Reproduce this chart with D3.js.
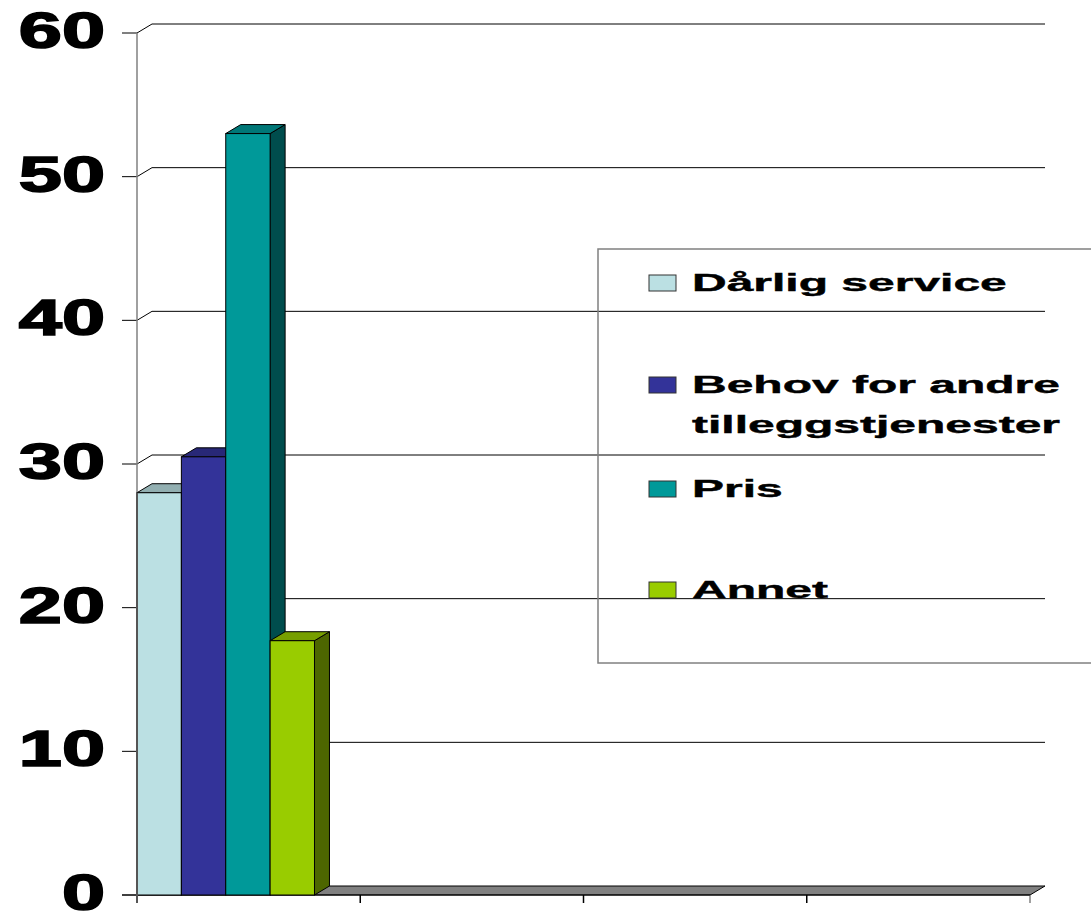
<!DOCTYPE html>
<html>
<head>
<meta charset="utf-8">
<script src="https://cdn.jsdelivr.net/npm/d3@7"></script>
<style>
  body { margin: 0; background: #fff; }
  text { font-family: "Liberation Sans", Arial, sans-serif; font-weight: bold; }
</style>
</head>
<body>
<div id="chart"></div>
<script>
// data
var categories = ["k1", "k2", "k3", "k4"];
var seriesNames = ["Dårlig service", "Behov for andre tilleggstjenester", "Pris", "Annet"];
var seriesValues = [28, 30.5, 53, 17.7];   // only first category has values
var yTicks = [0, 10, 20, 30, 40, 50, 60];

var colors = ["#BBE0E3", "#333399", "#009999", "#99CC00"];

var svgWidth = 1091, svgHeight = 916;
// 3d offsets
var dx = 15, dy = -9;

var svg = d3.select("#chart").append("svg")
  .attr("width", svgWidth)
  .attr("height", svgHeight);

var x = d3.scaleBand().domain(categories).range([137, 1030]);
var xSeries = d3.scaleBand().domain(seriesNames).range([0, x.bandwidth() * 0.795]);
var y = d3.scaleLinear().domain([0, 60]).range([895, 33]);

function shade(c, k) {
  var r = d3.rgb(c);
  return d3.rgb(r.r * k, r.g * k, r.b * k).toString();
}

// floor
var x0 = x.range()[0], x1 = x.range()[1];
svg.append("path")
  .attr("d", `M${x0},${y(0)} L${x1},${y(0)} L${x1 + dx},${y(0) + dy} L${x0 + dx},${y(0) + dy} Z`)
  .attr("fill", "#808080")
  .attr("stroke", "#000")
  .attr("stroke-width", 1);

// gridlines on back wall + diagonal + left tick
var grid = svg.append("g");
yTicks.forEach(function(t) {
  if (t > 0) {
    grid.append("path")
      .attr("d", `M${x0},${y(t)} L${x0 + dx},${y(t) + dy} L${x1 + dx},${y(t) + dy}`)
      .attr("fill", "none")
      .attr("stroke", "#000")
      .attr("stroke-width", 1);
  }
  grid.append("line")
    .attr("x1", x0 - 15).attr("x2", x0)
    .attr("y1", y(t)).attr("y2", y(t))
    .attr("stroke", "#000");
});

// y axis line
svg.append("line")
  .attr("x1", x0).attr("x2", x0)
  .attr("y1", y(60)).attr("y2", y(0) + 8)
  .attr("stroke", "#808080")
  .attr("stroke-width", 1.5);

// x axis ticks
var xTickPos = categories.map(function(c) { return x(c); }).concat([x1]);
svg.selectAll(".xtick").data(xTickPos).enter().append("line")
  .attr("x1", d => d).attr("x2", d => d)
  .attr("y1", y(0)).attr("y2", y(0) + 8)
  .attr("stroke", (d, i) => (i == 0 || i == 4) ? "#808080" : "#000")
  .attr("stroke-width", 1.5);
svg.append("line")
  .attr("x1", x0 - 15).attr("x2", x1)
  .attr("y1", y(0)).attr("y2", y(0))
  .attr("stroke", "#000");

// bars (first category only), left to right so each front face hides the previous side
var bars = svg.append("g");
var barData = seriesNames.map(function(s, i) { return { name: s, value: seriesValues[i], color: colors[i] }; });
barData.forEach(function(d) {
  var bx = x(categories[0]) + xSeries(d.name);
  var bw = xSeries.bandwidth();
  var top = y(d.value), bot = y(0);
  // side face
  bars.append("path")
    .attr("d", `M${bx + bw},${top} L${bx + bw + dx},${top + dy} L${bx + bw + dx},${bot + dy} L${bx + bw},${bot} Z`)
    .attr("fill", shade(d.color, 0.5))
    .attr("stroke", "#000").attr("stroke-width", 1);
  // top face
  bars.append("path")
    .attr("d", `M${bx},${top} L${bx + dx},${top + dy} L${bx + bw + dx},${top + dy} L${bx + bw},${top} Z`)
    .attr("fill", shade(d.color, 0.78))
    .attr("stroke", "#000").attr("stroke-width", 1);
  // front face
  bars.append("rect")
    .attr("x", bx).attr("y", top)
    .attr("width", bw).attr("height", bot - top)
    .attr("fill", d.color)
    .attr("stroke", "#000").attr("stroke-width", 1);
});
// left edge of the first bar sits on the axis
svg.append("line")
  .attr("x1", x0).attr("x2", x0)
  .attr("y1", y(seriesValues[0])).attr("y2", y(0) + 8)
  .attr("stroke", "#555")
  .attr("stroke-width", 2);

// y labels
svg.selectAll(".ylab").data(yTicks).enter().append("g")
  .attr("transform", d => `translate(105, ${y(d) + 15}) scale(1.55, 1)`)
  .append("text")
  .attr("text-anchor", "end")
  .attr("font-size", 50)
  .attr("fill", "#000")
  .attr("stroke", "#000")
  .attr("stroke-width", 1.6)
  .text(d => d);

// legend
svg.append("rect")
  .attr("x", 598).attr("y", 249)
  .attr("width", 520).attr("height", 414)
  .attr("fill", "none")
  .attr("stroke", "#808080")
  .attr("stroke-width", 1.5);

var legendLines = [["Dårlig service"], ["Behov for andre", "tilleggstjenester"], ["Pris"], ["Annet"]];
var legendY = [291, 393, 497, 598];
legendLines.forEach(function(lines, i) {
  svg.append("rect")
    .attr("x", 649).attr("y", legendY[i] - 16)
    .attr("width", 27).attr("height", 16)
    .attr("fill", colors[i])
    .attr("stroke", "#333").attr("stroke-width", 1);
  lines.forEach(function(t, j) {
    svg.append("g")
      .attr("transform", `translate(692, ${legendY[i] + j * 40}) scale(2.0, 1)`)
      .append("text")
      .attr("font-size", 24)
      .attr("fill", "#000")
      .attr("stroke", "#000")
      .attr("stroke-width", 0.4)
      .text(t);
  });
});
</script>
</body>
</html>
